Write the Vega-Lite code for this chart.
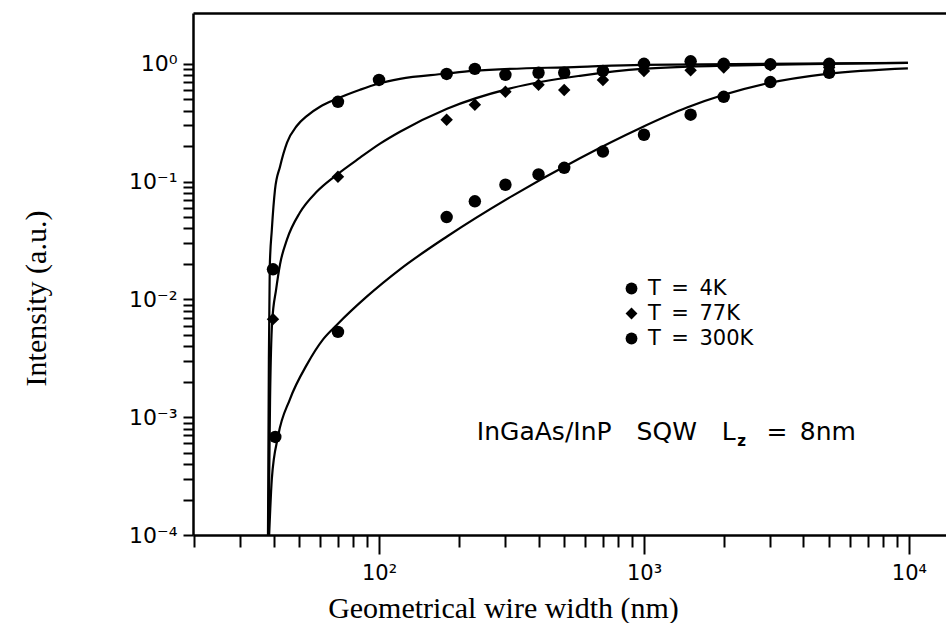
{
  "$schema": "https://vega.github.io/schema/vega-lite/v6.json",
  "width": 753,
  "height": 522,
  "autosize": {"type": "none"},
  "padding": {"left": 193, "top": 13, "right": 0, "bottom": 88},
  "background": "white",
  "config": {
    "view": {"stroke": null},
    "axis": {"grid": false, "domainColor": "black", "tickColor": "black", "labelColor": "black", "titleColor": "black"}
  },
  "datasets": {
    "curves": [
      {"series": "4K", "width": 38.1, "intensity": 0.0001},
      {"series": "4K", "width": 38.4, "intensity": 0.0031},
      {"series": "4K", "width": 38.7, "intensity": 0.019},
      {"series": "4K", "width": 39.4, "intensity": 0.039},
      {"series": "4K", "width": 40.5, "intensity": 0.0855},
      {"series": "4K", "width": 42.3, "intensity": 0.134},
      {"series": "4K", "width": 44.96, "intensity": 0.214},
      {"series": "4K", "width": 49.0, "intensity": 0.298},
      {"series": "4K", "width": 53.5, "intensity": 0.362},
      {"series": "4K", "width": 59.9, "intensity": 0.432},
      {"series": "4K", "width": 69.4, "intensity": 0.505},
      {"series": "4K", "width": 84.8, "intensity": 0.602},
      {"series": "4K", "width": 99.1, "intensity": 0.677},
      {"series": "4K", "width": 120, "intensity": 0.746},
      {"series": "4K", "width": 177, "intensity": 0.823},
      {"series": "4K", "width": 226, "intensity": 0.872},
      {"series": "4K", "width": 573, "intensity": 0.943},
      {"series": "4K", "width": 982, "intensity": 0.981},
      {"series": "4K", "width": 9910, "intensity": 1.02},
      {"series": "77K", "width": 38.3, "intensity": 0.0001},
      {"series": "77K", "width": 38.8, "intensity": 0.00142},
      {"series": "77K", "width": 39.5, "intensity": 0.00638},
      {"series": "77K", "width": 40.9, "intensity": 0.01216},
      {"series": "77K", "width": 42.3, "intensity": 0.0198},
      {"series": "77K", "width": 44.96, "intensity": 0.0323},
      {"series": "77K", "width": 50.3, "intensity": 0.0546},
      {"series": "77K", "width": 58.3, "intensity": 0.0823},
      {"series": "77K", "width": 69.4, "intensity": 0.1147},
      {"series": "77K", "width": 84.8, "intensity": 0.1597},
      {"series": "77K", "width": 100.9, "intensity": 0.21},
      {"series": "77K", "width": 120, "intensity": 0.265},
      {"series": "77K", "width": 180.6, "intensity": 0.4156},
      {"series": "77K", "width": 320, "intensity": 0.626},
      {"series": "77K", "width": 573, "intensity": 0.791},
      {"series": "77K", "width": 982, "intensity": 0.907},
      {"series": "77K", "width": 2911, "intensity": 0.981},
      {"series": "77K", "width": 9910, "intensity": 1.02},
      {"series": "300K", "width": 38.5, "intensity": 0.0001},
      {"series": "300K", "width": 39.4, "intensity": 0.0003},
      {"series": "300K", "width": 41.6, "intensity": 0.00069},
      {"series": "300K", "width": 46.1, "intensity": 0.00142},
      {"series": "300K", "width": 53.5, "intensity": 0.00281},
      {"series": "300K", "width": 61.5, "intensity": 0.00458},
      {"series": "300K", "width": 69.4, "intensity": 0.0061},
      {"series": "300K", "width": 90.1, "intensity": 0.0106},
      {"series": "300K", "width": 120, "intensity": 0.018},
      {"series": "300K", "width": 180.6, "intensity": 0.0342},
      {"series": "300K", "width": 320, "intensity": 0.0761},
      {"series": "300K", "width": 573, "intensity": 0.158},
      {"series": "300K", "width": 966, "intensity": 0.284},
      {"series": "300K", "width": 1453, "intensity": 0.425},
      {"series": "300K", "width": 2911, "intensity": 0.68},
      {"series": "300K", "width": 4910, "intensity": 0.82},
      {"series": "300K", "width": 9910, "intensity": 0.916}
    ],
    "points": [
      {"series": "4K", "width": 39.8, "intensity": 0.018},
      {"series": "4K", "width": 70, "intensity": 0.476},
      {"series": "4K", "width": 100, "intensity": 0.73},
      {"series": "4K", "width": 180, "intensity": 0.82},
      {"series": "4K", "width": 230, "intensity": 0.906},
      {"series": "4K", "width": 300, "intensity": 0.807},
      {"series": "4K", "width": 400, "intensity": 0.84},
      {"series": "4K", "width": 500, "intensity": 0.84},
      {"series": "4K", "width": 700, "intensity": 0.87},
      {"series": "4K", "width": 1000, "intensity": 1.0},
      {"series": "4K", "width": 1500, "intensity": 1.05},
      {"series": "4K", "width": 2000, "intensity": 1.0},
      {"series": "4K", "width": 3000, "intensity": 0.99},
      {"series": "4K", "width": 5000, "intensity": 1.0},
      {"series": "77K", "width": 39.8, "intensity": 0.0068},
      {"series": "77K", "width": 70, "intensity": 0.11},
      {"series": "77K", "width": 180, "intensity": 0.335},
      {"series": "77K", "width": 230, "intensity": 0.45},
      {"series": "77K", "width": 300, "intensity": 0.58},
      {"series": "77K", "width": 400, "intensity": 0.665},
      {"series": "77K", "width": 500, "intensity": 0.6},
      {"series": "77K", "width": 700, "intensity": 0.73},
      {"series": "77K", "width": 1000, "intensity": 0.87},
      {"series": "77K", "width": 1500, "intensity": 0.88},
      {"series": "77K", "width": 2000, "intensity": 0.93},
      {"series": "77K", "width": 3000, "intensity": 0.97},
      {"series": "77K", "width": 5000, "intensity": 0.93},
      {"series": "300K", "width": 40.6, "intensity": 0.00068},
      {"series": "300K", "width": 70, "intensity": 0.0053},
      {"series": "300K", "width": 180, "intensity": 0.05},
      {"series": "300K", "width": 230, "intensity": 0.068},
      {"series": "300K", "width": 300, "intensity": 0.094},
      {"series": "300K", "width": 400, "intensity": 0.115},
      {"series": "300K", "width": 500, "intensity": 0.131},
      {"series": "300K", "width": 700, "intensity": 0.18},
      {"series": "300K", "width": 1000, "intensity": 0.25},
      {"series": "300K", "width": 1500, "intensity": 0.37},
      {"series": "300K", "width": 2000, "intensity": 0.525},
      {"series": "300K", "width": 3000, "intensity": 0.7},
      {"series": "300K", "width": 5000, "intensity": 0.84}
    ]
  },
  "layer": [
    {
      "data": {"name": "curves"},
      "mark": {"type": "line", "interpolate": "monotone", "color": "black", "strokeWidth": 2.2},
      "encoding": {
        "x": {"field": "width", "type": "quantitative",
              "scale": {"type": "log", "domain": [19.86, 13800], "nice": false},
              "axis": {"orient": "top", "domainWidth": 2.5, "ticks": false, "labels": false, "title": null}},
        "y": {"field": "intensity", "type": "quantitative",
              "scale": {"type": "log", "domain": [0.0001, 2.7], "nice": false},
              "axis": null},
        "detail": {"field": "series"}
      }
    },
    {
      "data": {"name": "points"},
      "mark": {"type": "point", "filled": true, "color": "black", "opacity": 1, "size": 155},
      "encoding": {
        "x": {"field": "width", "type": "quantitative",
              "axis": {
                "orient": "bottom",
                "values": [20,30,40,50,60,70,80,90,100,200,300,400,500,600,700,800,900,1000,2000,3000,4000,5000,6000,7000,8000,9000,10000],
                "labelExpr": "datum.value == 100 ? '10²' : datum.value == 1000 ? '10³' : datum.value == 10000 ? '10⁴' : ''",
                "tickSize": {"condition": {"test": "datum.value == 100 || datum.value == 1000 || datum.value == 10000", "value": 19}, "value": 12},
                "tickWidth": 2,
                "domainWidth": 2.5,
                "labelFont": "DejaVu Sans",
                "labelFontSize": 21,
                "labelPadding": 8,
                "labelOverlap": false,
                "labelFlush": false,
                "labelBound": false,
                "title": "Geometrical wire width (nm)",
                "titleFont": "Liberation Serif",
                "titleFontSize": 30,
                "titleFontWeight": "normal",
                "titleX": 310,
                "titleY": 82,
                "titleAlign": "center",
                "titleBaseline": "alphabetic"
              }},
        "y": {"field": "intensity", "type": "quantitative",
              "axis": {
                "values": [0.0001,0.0002,0.0003,0.0004,0.0005,0.0006,0.0007,0.0008,0.0009,0.001,0.002,0.003,0.004,0.005,0.006,0.007,0.008,0.009,0.01,0.02,0.03,0.04,0.05,0.06,0.07,0.08,0.09,0.1,0.2,0.3,0.4,0.5,0.6,0.7,0.8,0.9,1],
                "labelExpr": "datum.value == 1 ? '10⁰' : datum.value == 0.1 ? '10⁻¹' : datum.value == 0.01 ? '10⁻²' : datum.value == 0.001 ? '10⁻³' : datum.value == 0.0001 ? '10⁻⁴' : ''",
                "tickSize": 10,
                "tickWidth": 2,
                "domainWidth": 2.5,
                "labelFont": "DejaVu Sans",
                "labelFontSize": 22,
                "labelPadding": 6,
                "labelBaseline": "middle",
                "labelOverlap": false,
                "labelFlush": false,
                "labelBound": false,
                "title": "Intensity (a.u.)",
                "titleFont": "Liberation Serif",
                "titleFontSize": 30,
                "titleFontWeight": "normal",
                "titleX": -148,
                "titleY": 285,
                "titleAngle": -90,
                "titleAlign": "center",
                "titleBaseline": "alphabetic"
              }},
        "shape": {"field": "series", "type": "nominal",
                  "scale": {"domain": ["4K", "77K", "300K"], "range": ["circle", "diamond", "circle"]},
                  "legend": {
                    "orient": "none",
                    "legendX": 428,
                    "legendY": 265,
                    "title": null,
                    "padding": 0,
                    "labelFont": "DejaVu Sans",
                    "labelFontSize": 21,
                    "labelColor": "black",
                    "labelOffset": 6,
                    "rowPadding": 3,
                    "symbolSize": 140,
                    "symbolFillColor": "black",
                    "symbolStrokeColor": "black",
                    "labelExpr": "'T\u2002=\u2002' + datum.label"
                  }}
      }
    },
    {
      "data": {"values": [{}]},
      "mark": {"type": "text", "align": "left", "baseline": "middle", "font": "DejaVu Sans", "fontSize": 25, "color": "black", "text": "InGaAs/InP\u2003SQW\u2003L"},
      "encoding": {
        "x": {"datum": 234, "type": "quantitative", "axis": null},
        "y": {"datum": 0.000746, "type": "quantitative", "axis": null}
      }
    },
    {
      "data": {"values": [{}]},
      "mark": {"type": "text", "align": "left", "baseline": "middle", "font": "DejaVu Sans", "fontSize": 15, "fontWeight": "bold", "color": "black", "text": "z"},
      "encoding": {
        "x": {"datum": 2250, "type": "quantitative", "axis": null},
        "y": {"datum": 0.000626, "type": "quantitative", "axis": null}
      }
    },
    {
      "data": {"values": [{}]},
      "mark": {"type": "text", "align": "right", "baseline": "middle", "font": "DejaVu Sans", "fontSize": 25, "color": "black", "text": "=\u20028nm"},
      "encoding": {
        "x": {"datum": 6310, "type": "quantitative", "axis": null},
        "y": {"datum": 0.000746, "type": "quantitative", "axis": null}
      }
    }
  ],
  "resolve": {"axis": {"x": "independent", "y": "independent"}}
}
